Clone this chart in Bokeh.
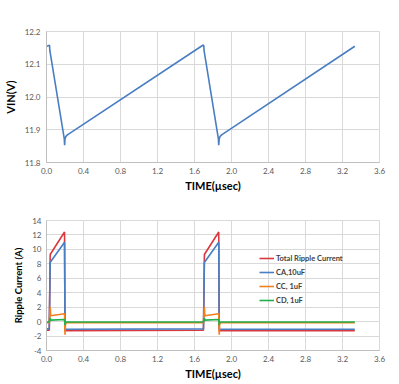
from bokeh.plotting import figure
from bokeh.layouts import column
from bokeh.models import Range1d, FixedTicker, PrintfTickFormatter, Legend, LegendItem
from bokeh.embed import file_html
from bokeh.resources import INLINE

# ---- data ----
x_ticks = [0.0, 0.4, 0.8, 1.2, 1.6, 2.0, 2.4, 2.8, 3.2, 3.6]
vin_ticks = [11.8, 11.9, 12.0, 12.1, 12.2]
cur_ticks = [-4, -2, 0, 2, 4, 6, 8, 10, 12, 14]

vin_t = [0.0, 0.033, 0.036, 0.192, 0.196, 0.200, 0.210, 0.230, 1.690, 1.700,
         1.703, 1.858, 1.862, 1.867, 1.877, 1.897, 3.333]
vin_v = [12.155, 12.158, 12.142, 11.873, 11.853, 11.872, 11.880, 11.885, 12.158, 12.158,
         12.142, 11.873, 11.853, 11.872, 11.880, 11.885, 12.155]

cur_t = [0.0, 0.030, 0.040, 0.045, 0.195, 0.200, 0.205, 0.210,
         1.697, 1.707, 1.712, 1.862, 1.867, 1.872, 1.877, 3.333]
total = [-1.2, -1.2, 9.3, 9.4, 12.4, -1.3, -1.25, -1.25,
         -1.2, 9.3, 9.4, 12.4, -1.3, -1.25, -1.25, -1.25]
ca = [-1.0, -1.0, 8.2, 8.3, 11.0, -1.05, -1.05, -1.05,
      -1.0, 8.2, 8.3, 11.0, -1.05, -1.05, -1.05, -1.05]
cc = [-0.15, -0.15, 2.0, 0.8, 1.1, -1.8, -0.4, -0.15,
      -0.15, 2.0, 0.8, 1.1, -1.8, -0.4, -0.15, -0.15]
cd = [-0.05, -0.05, 0.5, 0.2, 0.3, -0.5, -0.1, -0.05,
      -0.05, 0.5, 0.2, 0.3, -0.5, -0.1, -0.05, -0.05]
series_names = ["Total Ripple Current", "CA,10uF", "CC, 1uF", "CD, 1uF"]

FONT = "Lato"
GRID = "#D9D9D9"
TICKC = "#595959"


def style(p, xlabel, ylabel, ylabel_size, yfmt, yticks):
    p.xaxis.ticker = FixedTicker(ticks=x_ticks)
    p.yaxis.ticker = FixedTicker(ticks=yticks)
    p.xaxis.formatter = PrintfTickFormatter(format="%.1f")
    p.yaxis.formatter = PrintfTickFormatter(format=yfmt)
    p.xaxis.axis_label = xlabel
    p.yaxis.axis_label = ylabel
    for ax in (p.xaxis[0], p.yaxis[0]):
        ax.major_tick_out = 0
        ax.major_tick_in = 0
        ax.minor_tick_out = 0
        ax.minor_tick_in = 0
        ax.axis_line_color = "#BFBFBF"
        ax.major_label_text_font = FONT
        ax.major_label_text_font_size = "8px"
        ax.major_label_text_color = TICKC
        ax.axis_label_text_font = FONT
        ax.axis_label_text_font_style = "bold"
        ax.axis_label_text_color = "#000000"
    p.xaxis.axis_label_text_font_size = "11px"
    p.yaxis.axis_label_text_font_size = ylabel_size
    p.xaxis.major_label_standoff = 5
    p.xaxis.axis_label_standoff = 2
    p.yaxis.major_label_standoff = 6
    p.yaxis.axis_label_standoff = 5
    p.xgrid.grid_line_color = GRID
    p.ygrid.grid_line_color = GRID
    p.outline_line_color = GRID
    p.background_fill_color = "white"
    p.border_fill_color = "white"


top = figure(width=391, height=196, output_backend="svg", toolbar_location=None,
             x_range=Range1d(0, 3.6), y_range=Range1d(11.8, 12.2),
             min_border_left=40, min_border_right=12, min_border_top=31, min_border_bottom=34)
style(top, "TIME(µsec)", "VIN(V)", "11px", "%.1f", vin_ticks)
top.line(vin_t, vin_v, line_color="#4A7EC2", line_width=1.6)

bot = figure(width=391, height=186, output_backend="svg", toolbar_location=None,
             x_range=Range1d(0, 3.6), y_range=Range1d(-4, 14),
             min_border_left=40, min_border_right=12, min_border_top=24, min_border_bottom=29)
style(bot, "TIME(µsec)", "Ripple Current (A)", "9.5px", "%d", cur_ticks)
bot.yaxis.major_label_standoff = 5
bot.yaxis.axis_label_standoff = 5
bot.xaxis.axis_label_standoff = 2

colors = ["#D9393E", "#4A7EC2", "#F07F1F", "#22B04C"]
renderers = []
for ys, c in zip([total, ca, cc, cd], colors):
    renderers.append(bot.line(cur_t, ys, line_color=c, line_width=1.6))

legend = Legend(items=[LegendItem(label=n, renderers=[r]) for n, r in zip(series_names, renderers)],
                location=(213, 45), orientation="vertical")
legend.padding = 0
legend.margin = 0
legend.spacing = 4
legend.glyph_width = 15
legend.glyph_height = 10
legend.label_height = 10
legend.label_standoff = 2
legend.label_text_font = FONT
legend.label_text_font_size = "7.5px"
legend.label_text_font_style = "bold"
legend.label_text_color = "#404040"
legend.border_line_color = None
legend.background_fill_alpha = 0
bot.add_layout(legend, "center")

layout = column(top, bot, spacing=0)
open("out.html", "w").write(file_html(layout, INLINE))
